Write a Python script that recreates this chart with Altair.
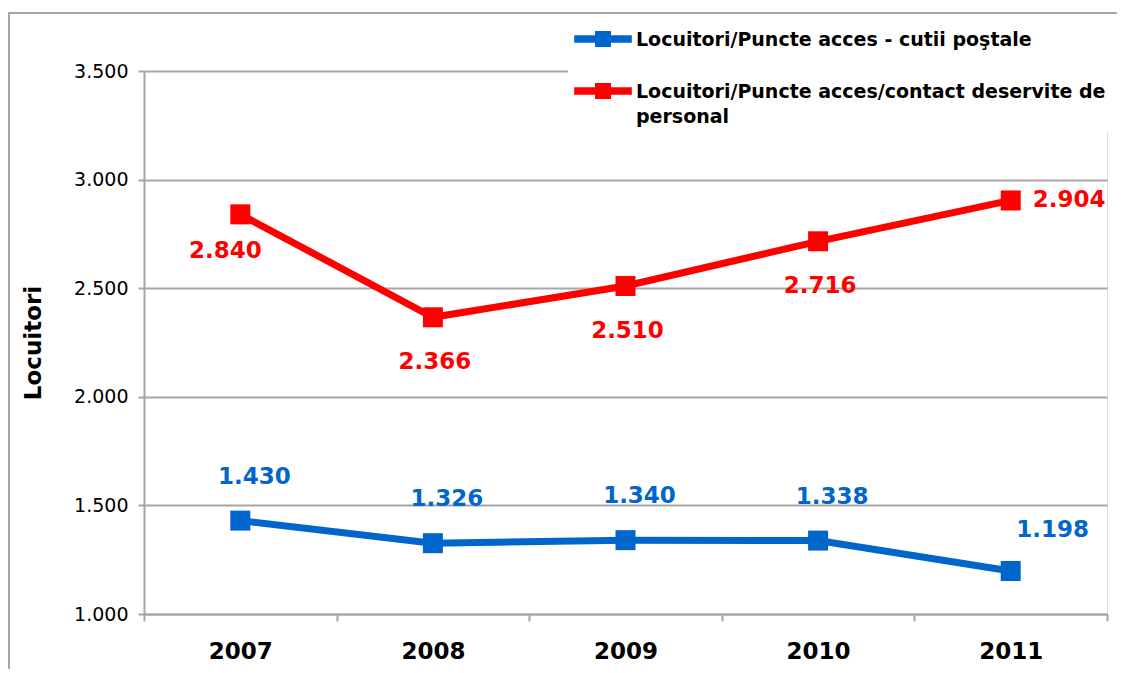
import altair as alt
import pandas as pd

years = ["2007", "2008", "2009", "2010", "2011"]
series_names = [
    "Locuitori/Puncte acces - cutii poştale",
    "Locuitori/Puncte acces/contact deservite de personal",
]
cutii = [1430, 1326, 1340, 1338, 1198]
personal = [2840, 2366, 2510, 2716, 2904]
y_ticks = [1000, 1500, 2000, 2500, 3000, 3500]
colors = ["#0066CC", "#FF0000"]

rows = []
for name, vals in zip(series_names, [cutii, personal]):
    for yr, v in zip(years, vals):
        rows.append({"series": name, "year": yr, "value": v})
df = pd.DataFrame(rows)

FONT = "DejaVu Sans"
GRID = "#A6A6A6"
NUMFMT = "replace(format(datum.value, ','), ',', '.')"

x_enc = alt.X(
    "year:N",
    sort=years,
    scale=alt.Scale(type="band", paddingInner=0, paddingOuter=0),
    bandPosition=0.5,
    axis=alt.Axis(
        title=None, tickBand="extent", labelAngle=0, grid=False,
        labelFont=FONT, labelFontSize=23, labelFontWeight="bold",
        labelColor="black", labelPadding=19, tickSize=7, tickColor=GRID,
        tickWidth=2, domainColor=GRID, domainWidth=2,
    ),
)
y_enc = alt.Y(
    "value:Q",
    scale=alt.Scale(domain=[1000, 3500], nice=False, zero=False),
    axis=alt.Axis(
        title="Locuitori", values=y_ticks, labelExpr=NUMFMT,
        labelFont=FONT, labelFontSize=19, labelColor="black",
        labelPadding=10, tickSize=6, tickColor=GRID, tickWidth=2,
        domainColor=GRID, domainWidth=2, grid=True, gridColor=GRID,
        gridWidth=2, titleFont=FONT, titleFontSize=23,
        titleFontWeight="bold", titleColor="black", titlePadding=28,
    ),
)

base = alt.Chart(df)


def line_layer(i):
    return (
        base.transform_filter(alt.datum.series == series_names[i])
        .mark_line(strokeWidth=7, color=colors[i])
        .encode(x=x_enc, y=y_enc)
    )


legend_path = (
    "M-0.95,-0.448H1.45V-0.136H-0.95Z "
    "M-0.083,-0.625H0.583V0.041H-0.083Z"
)
points = base.mark_point(filled=True, shape="square", size=400, opacity=1).encode(
    x=x_enc, y=y_enc,
    color=alt.Color(
        "series:N",
        scale=alt.Scale(domain=series_names, range=colors),
        legend=alt.Legend(
            title=None, orient="none", legendX=424, legendY=-54,
            fillColor="white", padding=5, labelLimit=700,
            labelFont=FONT, labelFontSize=19, labelFontWeight="bold",
            labelColor="black", labelBaseline="alphabetic", labelOffset=15,
            rowPadding=24, symbolType=legend_path, symbolSize=2304,
            symbolStrokeWidth=0, symbolOpacity=1,
            labelExpr="length(datum.label) > 45 ? [substring(datum.label, 0, lastindexof(datum.label, ' ')), substring(datum.label, lastindexof(datum.label, ' ') + 1)] : datum.label",
        ),
    ),
)


def label_layer(series_idx, filt, dx, dy, align="center"):
    return (
        base.transform_filter(alt.datum.series == series_names[series_idx])
        .transform_filter(filt)
        .transform_calculate(label=NUMFMT)
        .mark_text(font=FONT, fontSize=23, fontWeight="bold", dx=dx, dy=dy,
                   align=align, baseline="middle", color=colors[series_idx])
        .encode(x=x_enc, y=y_enc, text="label:N")
    )


labels = [
    label_layer(1, "datum.year == '2007'", -15, 37),
    label_layer(1, "datum.year != '2007' && datum.year != '2011'", 2, 45),
    label_layer(1, "datum.year == '2011'", 22, 0, "left"),
    label_layer(0, "datum.year != '2011'", 14, -44),
    label_layer(0, "datum.year == '2011'", 42, -41),
]

frame = alt.Chart(pd.DataFrame({"a": [0]})).mark_rect(
    filled=False, stroke=GRID, strokeWidth=2
).encode(x=alt.value(-135), x2=alt.value(1400), y=alt.value(-58), y2=alt.value(900))

chart = (
    alt.layer(frame, line_layer(0), line_layer(1), points, *labels)
    .properties(
        width=963, height=543,
        autosize=alt.AutoSizeParams(type="none"),
        padding={"left": 136, "top": 63, "right": 10, "bottom": 55},
    )
    .configure_view(stroke=GRID, strokeWidth=2)
    .configure(background="white", style={"guide-label": {"lineHeight": 25}})
)

chart.save("out.html", embed_options={"renderer": "svg", "actions": False})
